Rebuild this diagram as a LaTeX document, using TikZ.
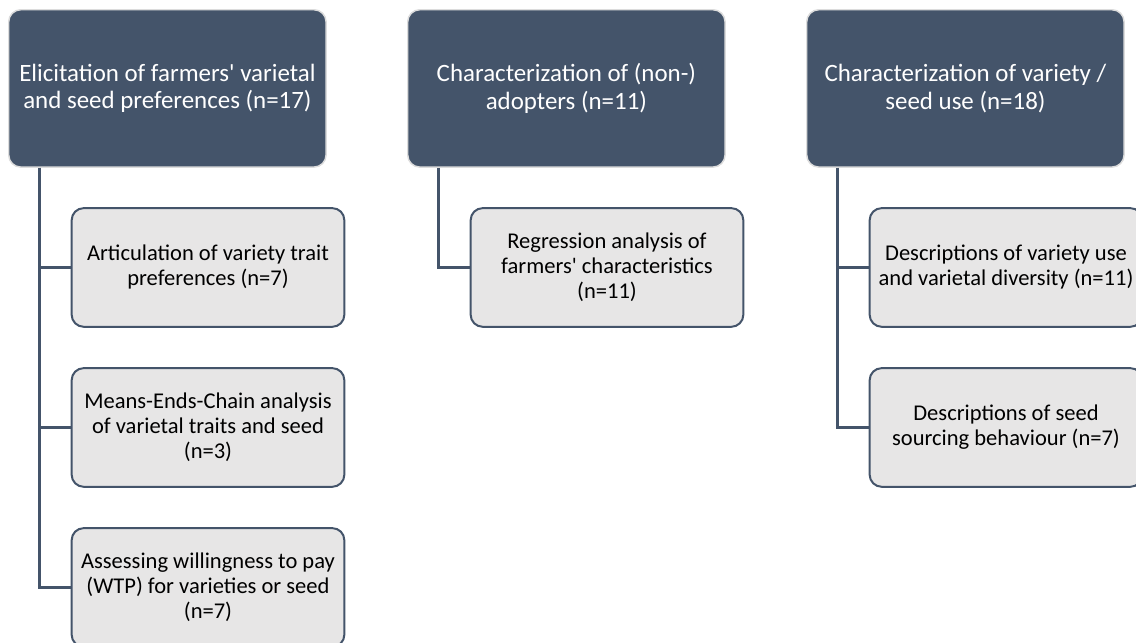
\documentclass[tikz,border=0pt]{standalone}
\usepackage{fontspec}
\setmainfont{Carlito}
\usetikzlibrary{positioning}
\definecolor{slate}{HTML}{44546A}
\definecolor{paleGrey}{HTML}{E7E6E6}
\definecolor{rimGrey}{HTML}{DCDCDC}

\begin{document}
\begin{tikzpicture}[x=0.75pt, y=-0.75pt, node distance=29.5pt and 47pt]
% Define block styles
\tikzstyle{header} = [rectangle, draw=rimGrey, line width=1.1pt, fill=slate, text=white,
    rounded corners=9pt, minimum width=238pt, minimum height=118pt, align=center,
    font=\fontsize{18.7}{20.8}\selectfont]
\tikzstyle{item} = [rectangle, draw=slate, line width=1.5pt, fill=paleGrey,
    rounded corners=9pt, minimum width=204.5pt, minimum height=89pt, align=center,
    font=\fontsize{16.9}{18.75}\selectfont]
\tikzstyle{link} = [draw=slate, line width=1.9pt]

    \clip (0,0) rectangle (1136,643);
    % Place nodes
    \node [header, anchor=north west] (elicit) at (8,9) {Elicitation of farmers\textquotesingle{} varietal\\and seed preferences (n=17)};
    \node [header, anchor=north west] (adopt) at (407,9) {Characterization of (non-)\\adopters (n=11)};
    \node [header, anchor=north west] (use) at (806,9) {Characterization of variety /\\seed use (n=18)};
    \node [item, below right=of elicit.south west] (traits) {Articulation of variety trait\\preferences (n=7)};
    \node [item, below=of traits] (chain) {Means-Ends-Chain analysis\\of varietal traits and seed\\(n=3)};
    \node [item, below=of chain] (wtp) {Assessing willingness to pay\\(WTP) for varieties or seed\\(n=7)};
    \node [item, below right=of adopt.south west] (regress) {Regression analysis of\\farmers\textquotesingle{} characteristics\\(n=11)};
    \node [item, below right=of use.south west] (variety) {Descriptions of variety use\\and varietal diversity (n=11)};
    \node [item, below=of variety] (sourcing) {Descriptions of seed\\sourcing behaviour (n=7)};
    \coordinate (elicit-trunk) at ([xshift=23.5pt]elicit.south west);
    \coordinate (adopt-trunk) at ([xshift=23.5pt]adopt.south west);
    \coordinate (use-trunk) at ([xshift=23.5pt]use.south west);
    % Draw edges
    \path [link] (elicit-trunk) |- (traits.west);
    \path [link] (elicit-trunk) |- (chain.west);
    \path [link] (elicit-trunk) |- (wtp.west);
    \path [link] (adopt-trunk) |- (regress.west);
    \path [link] (use-trunk) |- (variety.west);
    \path [link] (use-trunk) |- (sourcing.west);
\end{tikzpicture}
\end{document}
